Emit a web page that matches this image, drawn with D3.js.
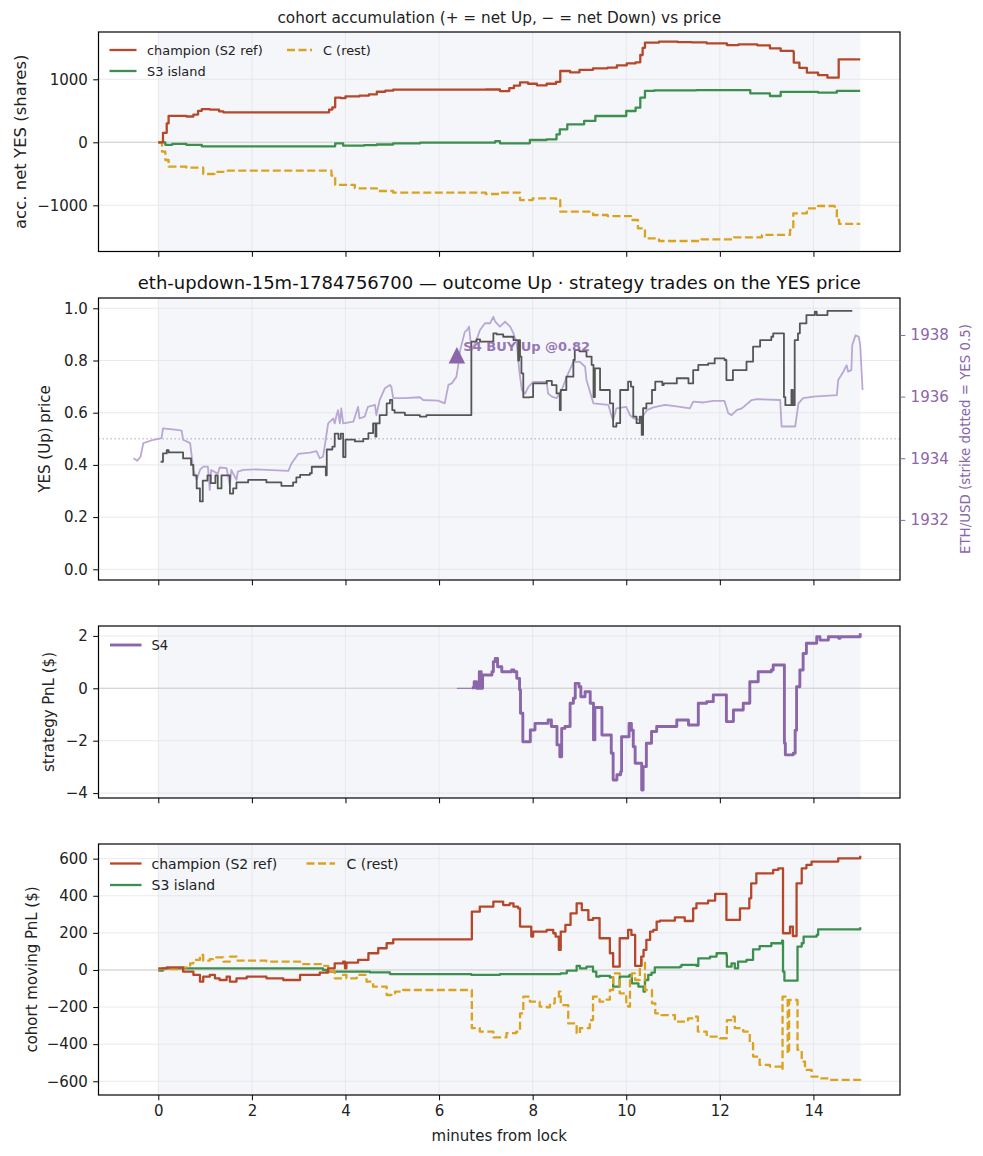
<!DOCTYPE html>
<html><head><meta charset="utf-8">
<script src="https://cdn.jsdelivr.net/npm/d3@7/dist/d3.min.js"></script>
<style>body{margin:0;background:#fff}svg{display:block}text{font-family:"DejaVu Sans",sans-serif}</style>
</head><body><svg id="c" width="983" height="1156"></svg>
<script>
// ---------------- DATA (t = minutes from lock) ----------------
const xTicks = [0,2,4,6,8,10,12,14];
const accTicks = [-1000,0,1000];
const yesTicks = [0,0.2,0.4,0.6,0.8,1.0];
const ethTicks = [1932,1934,1936,1938];
const s4Ticks = [-4,-2,0,2];
const pnlTicks = [-600,-400,-200,0,200,400,600];
const strike = 1934.63;
const tradeT = 6.38, tradeP = 0.82;

const accChampion = [[0,0],[0.1,150],[0.18,300],[0.22,420],[0.6,410],[0.75,440],[0.85,500],[0.93,528],[1.1,520],[1.3,490],[1.39,476],[3.6,476],[3.65,520],[3.72,556],[3.78,708],[3.9,700],[4.0,730],[4.3,740],[4.5,760],[4.67,803],[4.85,820],[5.02,835],[7.0,838],[7.3,814],[7.5,860],[7.6,900],[7.73,952],[7.9,930],[8.09,905],[8.3,930],[8.5,960],[8.59,1132],[8.8,1110],[9.0,1150],[9.29,1175],[9.6,1185],[9.8,1220],[10.01,1252],[10.2,1270],[10.3,1386],[10.35,1500],[10.4,1581],[10.7,1597],[11.1,1590],[11.4,1585],[11.72,1570],[12.15,1544],[12.4,1556],[12.8,1540],[13.07,1492],[13.3,1450],[13.57,1434],[13.58,1264],[13.7,1180],[13.86,1105],[14.1,1068],[14.3,1026],[14.54,1317],[15.0,1317]];
const accS3 = [[0,0],[0.15,-40],[0.3,-25],[0.6,-40],[0.93,-63],[3.6,-63],[3.78,-16],[3.95,-53],[4.4,-45],[4.67,-35],[5.02,-16],[5.6,-5],[7.2,20],[7.3,-16],[7.94,37],[8.3,48],[8.51,127],[8.58,206],[8.74,286],[9.1,339],[9.34,418],[9.8,418],[10.0,497],[10.2,550],[10.3,709],[10.4,815],[10.6,825],[11.5,830],[12.65,778],[13.07,735],[13.3,800],[14.1,788],[14.5,815],[15.0,815]];
const accC = [[0,0],[0.08,-149],[0.15,-281],[0.22,-387],[0.6,-402],[0.96,-503],[1.2,-470],[1.39,-450],[3.6,-450],[3.7,-530],[3.78,-677],[4.2,-730],[4.67,-773],[5.02,-799],[6.5,-799],[7.0,-820],[7.3,-799],[7.73,-916],[8.0,-890],[8.5,-916],[8.59,-1101],[9.0,-1101],[9.29,-1154],[9.6,-1170],[10.1,-1233],[10.25,-1366],[10.4,-1524],[10.7,-1566],[11.6,-1540],[12.3,-1508],[12.9,-1470],[13.5,-1391],[13.57,-1127],[13.86,-1048],[14.1,-1011],[14.45,-1022],[14.5,-1233],[14.55,-1296],[15.0,-1296]];

const yesPrice = [[0.05,0.412],[0.1,0.444],[0.18,0.457],[0.22,0.448],[0.5,0.448],[0.53,0.425],[0.7,0.40],[0.75,0.36],[0.82,0.31],[0.89,0.26],[0.95,0.34],[1.05,0.36],[1.12,0.33],[1.22,0.36],[1.27,0.31],[1.35,0.36],[1.48,0.36],[1.53,0.29],[1.6,0.31],[1.67,0.333],[1.92,0.343],[2.31,0.333],[2.63,0.32],[2.88,0.333],[2.95,0.352],[3.03,0.362],[3.24,0.368],[3.28,0.393],[3.55,0.393],[3.58,0.36],[3.6,0.459],[3.72,0.47],[3.77,0.52],[3.85,0.50],[3.9,0.52],[3.95,0.43],[4.0,0.497],[4.2,0.49],[4.38,0.50],[4.49,0.522],[4.59,0.559],[4.64,0.508],[4.66,0.559],[4.73,0.591],[4.88,0.636],[4.95,0.649],[5.0,0.61],[5.05,0.60],[5.27,0.591],[5.59,0.585],[5.73,0.591],[6.69,0.872],[6.8,0.881],[6.875,0.872],[7.16,0.904],[7.23,0.90],[7.37,0.891],[7.59,0.878],[7.69,0.80],[7.71,0.878],[7.73,0.815],[7.76,0.751],[7.8,0.659],[7.94,0.66],[8.01,0.712],[8.3,0.722],[8.41,0.706],[8.51,0.674],[8.58,0.61],[8.6,0.687],[8.72,0.738],[8.87,0.802],[8.9,0.84],[9.0,0.835],[9.15,0.815],[9.26,0.783],[9.3,0.66],[9.33,0.77],[9.44,0.687],[9.62,0.687],[9.65,0.636],[9.72,0.547],[9.79,0.56],[9.87,0.687],[10.04,0.719],[10.1,0.70],[10.15,0.585],[10.22,0.56],[10.29,0.585],[10.33,0.515],[10.36,0.617],[10.43,0.636],[10.55,0.687],[10.62,0.719],[10.77,0.706],[10.8,0.712],[11.08,0.732],[11.33,0.712],[11.43,0.763],[11.54,0.783],[11.75,0.789],[11.89,0.808],[12.1,0.802],[12.14,0.725],[12.28,0.763],[12.57,0.796],[12.71,0.853],[12.86,0.878],[13.1,0.891],[13.14,0.904],[13.37,0.66],[13.4,0.629],[13.53,0.687],[13.56,0.629],[13.6,0.878],[13.67,0.904],[13.71,0.942],[13.85,0.974],[14.03,0.987],[14.07,0.974],[14.3,0.99],[14.83,0.99]];

const ethUsd = [[-0.53,1934.0],[-0.45,1933.92],[-0.38,1934.05],[-0.32,1934.49],[-0.1,1934.6],[0.07,1934.65],[0.1,1934.97],[0.4,1934.92],[0.5,1934.9],[0.53,1934.6],[0.68,1934.49],[0.75,1933.62],[0.82,1933.3],[0.89,1933.62],[0.96,1933.73],[1.06,1933.73],[1.1,1932.97],[1.13,1933.62],[1.27,1933.5],[1.31,1933.7],[1.46,1933.68],[1.53,1933.1],[1.56,1933.62],[1.67,1933.3],[1.7,1933.57],[1.82,1933.62],[2.1,1933.64],[2.31,1933.62],[2.78,1933.59],[2.85,1933.84],[2.99,1934.14],[3.24,1934.18],[3.38,1934.23],[3.45,1934.0],[3.52,1934.05],[3.56,1934.43],[3.63,1935.13],[3.74,1935.29],[3.77,1935.13],[3.81,1935.4],[3.84,1935.56],[3.88,1935.13],[3.91,1935.62],[3.95,1935.13],[4.17,1935.19],[4.27,1935.67],[4.3,1935.29],[4.41,1935.35],[4.48,1935.67],[4.63,1935.73],[4.66,1935.4],[4.73,1935.89],[4.84,1936.27],[4.95,1936.38],[4.98,1936.32],[5.02,1935.95],[5.27,1935.95],[5.59,1935.98],[5.66,1935.89],[5.98,1935.87],[6.12,1935.78],[6.2,1936.38],[6.27,1936.43],[6.37,1936.64],[6.41,1937.02],[6.45,1937.5],[6.55,1938.1],[6.6,1938.16],[6.64,1938.27],[6.67,1937.84],[6.7,1937.51],[6.8,1937.84],[6.875,1938.16],[6.98,1938.38],[7.09,1938.38],[7.16,1938.59],[7.2,1938.43],[7.3,1938.27],[7.41,1938.43],[7.52,1938.27],[7.59,1938.05],[7.66,1937.73],[7.72,1936.76],[7.77,1936.21],[7.84,1936.1],[7.91,1936.32],[8.01,1936.48],[8.3,1936.48],[8.33,1936.1],[8.41,1936.0],[8.51,1935.95],[8.62,1936.21],[8.73,1936.65],[8.87,1937.13],[9.01,1937.13],[9.12,1936.97],[9.15,1936.54],[9.3,1935.78],[9.62,1935.73],[9.69,1935.35],[9.72,1935.24],[9.79,1935.62],[10.0,1935.67],[10.08,1935.4],[10.15,1935.3],[10.29,1935.24],[10.37,1935.40],[10.44,1935.56],[10.58,1935.65],[10.83,1935.73],[11.15,1935.67],[11.36,1935.62],[11.43,1935.84],[11.65,1935.81],[11.86,1935.86],[12.1,1935.86],[12.18,1935.46],[12.25,1935.40],[12.36,1935.56],[12.47,1935.62],[12.68,1935.89],[12.79,1935.92],[13.29,1935.89],[13.32,1935.03],[13.61,1935.03],[13.68,1935.78],[13.78,1935.95],[14.0,1936.0],[14.5,1936.05],[14.53,1936.54],[14.64,1936.81],[14.71,1937.02],[14.74,1936.81],[14.81,1936.86],[14.83,1937.67],[14.9,1937.99],[14.97,1937.94],[15.0,1937.67],[15.05,1936.21]];

const s4Flat = [[6.38,0],[6.7,0]];
const s4Pnl = [[6.7,0.02],[6.75,0.25],[6.8,0.0],[6.86,0.63],[6.9,0.0],[6.93,0.51],[7.13,0.63],[7.16,1.02],[7.2,1.14],[7.25,0.82],[7.34,0.63],[7.55,0.7],[7.6,0.63],[7.66,0.38],[7.72,-0.06],[7.74,-0.95],[7.79,-2.04],[7.91,-2.04],[7.95,-1.59],[8.05,-1.34],[8.33,-1.21],[8.4,-1.46],[8.48,-1.46],[8.52,-2.16],[8.58,-2.61],[8.62,-1.53],[8.69,-1.46],[8.8,-0.57],[8.87,-0.38],[8.91,0.19],[8.99,0.06],[9.03,-0.32],[9.12,-0.13],[9.23,-0.57],[9.3,-1.97],[9.33,-0.73],[9.44,-0.73],[9.48,-1.78],[9.65,-1.78],[9.68,-2.48],[9.72,-3.5],[9.8,-3.3],[9.88,-3.18],[9.9,-1.85],[10.04,-1.85],[10.06,-1.34],[10.11,-1.6],[10.15,-2.23],[10.19,-2.86],[10.26,-2.86],[10.33,-3.88],[10.36,-2.99],[10.43,-2.1],[10.54,-1.65],[10.65,-1.46],[11.04,-1.46],[11.08,-1.21],[11.29,-1.21],[11.33,-1.40],[11.47,-1.40],[11.54,-0.57],[11.72,-0.51],[11.86,-0.25],[12.07,-0.25],[12.14,-1.27],[12.25,-1.27],[12.29,-0.83],[12.5,-0.57],[12.64,0.25],[12.82,0.63],[13.1,0.7],[13.14,0.89],[13.36,0.89],[13.38,-2.1],[13.4,-2.54],[13.57,-2.48],[13.61,-1.6],[13.64,0.06],[13.71,0.7],[13.78,1.33],[13.85,1.72],[14.07,1.97],[14.14,1.84],[14.25,1.84],[14.32,1.97],[14.54,1.91],[14.57,1.97],[14.97,1.97],[15.0,2.1]];

const pnlChampion = [[0,9],[0.18,14],[0.53,-9],[0.75,-27],[0.89,-63],[0.96,-36],[1.1,-27],[1.21,-45],[1.31,-54],[1.46,-36],[1.53,-63],[1.67,-45],[1.89,-36],[2.31,-45],[2.67,-54],[3.03,-27],[3.45,-14],[3.63,9],[3.77,36],[3.95,45],[3.99,9],[4.02,40],[4.27,54],[4.49,90],[4.7,117],[4.88,144],[5.02,165],[6.7,314],[6.87,341],[7.16,368],[7.37,350],[7.51,359],[7.59,341],[7.69,332],[7.73,234],[7.97,180],[8.01,207],[8.3,216],[8.44,198],[8.49,180],[8.56,108],[8.6,207],[8.7,243],[8.81,305],[8.94,359],[9.05,323],[9.19,270],[9.29,279],[9.43,171],[9.65,90],[9.72,18],[9.86,171],[10.04,216],[10.11,189],[10.19,22],[10.32,72],[10.37,108],[10.43,162],[10.51,207],[10.58,216],[10.65,261],[10.72,266],[11.04,284],[11.25,264],[11.43,332],[11.5,359],[11.75,374],[11.9,410],[12.14,270],[12.43,332],[12.63,386],[12.67,467],[12.78,521],[13.14,539],[13.25,548],[13.35,198],[13.5,234],[13.56,183],[13.64,467],[13.75,548],[13.85,566],[13.96,584],[14.53,602],[15.0,615]];
const pnlS3 = [[0,-4],[0.1,9],[3.1,9],[3.52,0],[3.6,-9],[4.52,-13],[4.95,-22],[6.69,-27],[7.3,-22],[8.55,-22],[8.6,-18],[8.73,-4],[8.94,22],[9.01,9],[9.15,18],[9.29,-9],[9.36,-36],[9.43,-32],[9.65,-40],[9.72,-90],[9.86,-36],[10.07,-27],[10.12,-72],[10.26,-90],[10.37,-117],[10.4,-54],[10.47,-27],[10.54,-14],[10.61,14],[11.15,18],[11.18,27],[11.5,22],[11.54,63],[11.79,72],[11.93,90],[12.14,81],[12.15,18],[12.25,36],[12.32,9],[12.39,45],[12.57,54],[12.71,111],[12.85,129],[13.1,144],[13.33,158],[13.35,-9],[13.38,-58],[13.64,-58],[13.66,126],[13.75,144],[13.79,180],[14.07,189],[14.1,219],[15.0,230]];
const pnlC = [[0,4],[0.53,14],[0.68,36],[0.75,54],[0.89,81],[0.96,50],[1.1,58],[1.24,68],[1.39,45],[1.53,72],[1.67,50],[2.31,45],[3.03,32],[3.52,22],[3.63,-9],[3.77,-45],[3.95,-27],[4.02,-45],[4.24,-27],[4.45,-63],[4.59,-90],[4.88,-135],[4.98,-126],[5.06,-117],[5.23,-108],[6.7,-314],[6.87,-332],[7.16,-363],[7.44,-341],[7.65,-332],[7.73,-234],[7.8,-144],[7.94,-171],[8.15,-198],[8.3,-201],[8.37,-180],[8.47,-153],[8.56,-117],[8.6,-189],[8.76,-288],[8.94,-341],[9.01,-314],[9.22,-270],[9.29,-144],[9.43,-171],[9.58,-160],[9.65,-108],[9.72,-18],[9.86,-126],[10.0,-180],[10.04,-198],[10.08,-36],[10.12,-18],[10.19,-54],[10.29,18],[10.33,54],[10.4,-108],[10.55,-180],[10.62,-234],[10.75,-243],[11.04,-279],[11.32,-261],[11.46,-252],[11.53,-332],[11.72,-359],[12.0,-368],[12.15,-270],[12.29,-252],[12.32,-314],[12.5,-332],[12.64,-395],[12.71,-467],[12.85,-512],[13.07,-521],[13.32,-539],[13.34,-144],[13.41,-144],[13.45,-449],[13.48,-162],[13.64,-162],[13.66,-431],[13.75,-494],[13.82,-539],[13.96,-575],[14.14,-584],[14.35,-593],[15.0,-597]];

// ---------------- STYLE / LAYOUT ----------------
const C_CH = "#b5482a", C_S3 = "#3d8f4f", C_C = "#dba21e", C_S4 = "#8b66aa", C_YES = "#555555", C_ETH = "#b9a8d4";
const F = '"DejaVu Sans", sans-serif';
const L = 98.5, R = 900;
const LW = 2.3, DASH = "8,3.5";
const svg = d3.select("#c");
const x = d3.scaleLinear().domain([-1.278, 15.85]).range([L, R]);
const TL = 5.3, TP = 5.3;

function panel(top, bottom, ydom, ticks, fmt, showX, ylabel, ylx, ylfs) {
  const y = d3.scaleLinear().domain(ydom).range([bottom, top]);
  const g = svg.append("g");
  const id = "clip" + Math.round(top);
  svg.append("clipPath").attr("id", id).append("rect").attr("x", L).attr("y", top).attr("width", R - L).attr("height", bottom - top);
  const inner = g.append("g").attr("clip-path", `url(#${id})`);
  inner.append("rect").attr("x", x(0)).attr("y", top).attr("width", x(15) - x(0)).attr("height", bottom - top).attr("fill", "#f4f6fa");
  inner.selectAll(".vg").data(xTicks).join("line").attr("x1", d => x(d)).attr("x2", d => x(d)).attr("y1", top).attr("y2", bottom).attr("stroke", "#e3e5ea").attr("stroke-width", 0.8);
  inner.selectAll(".hg").data(ticks).join("line").attr("x1", L).attr("x2", R).attr("y1", d => y(d)).attr("y2", d => y(d)).attr("stroke", "#e3e5ea").attr("stroke-width", 0.8);
  const ax = d3.axisBottom(x).tickValues(xTicks).tickSize(TL).tickPadding(TP).tickFormat(showX ? d3.format("d") : () => "");
  const ga = g.append("g").attr("transform", `translate(0,${bottom})`).call(ax);
  const ay = d3.axisLeft(y).tickValues(ticks).tickSize(TL).tickPadding(TP).tickFormat(fmt);
  const gy = g.append("g").attr("transform", `translate(${L},0)`).call(ay);
  [ga, gy].forEach(a => { a.select(".domain").remove(); a.selectAll("line").attr("stroke", "#000").attr("stroke-width", 1); a.selectAll("text").attr("font-family", F).attr("font-size", 15).attr("fill", "#222"); });
  g.append("text").attr("transform", `translate(${ylx},${(top + bottom) / 2}) rotate(-90)`).attr("text-anchor", "middle").attr("dy", "0.35em").attr("font-size", ylfs || 15).attr("fill", "#222").text(ylabel);
  return {y, g, inner, top, bottom};
}
function frame(p) {
  p.g.append("rect").attr("x", L).attr("y", p.top).attr("width", R - L).attr("height", p.bottom - p.top).attr("fill", "none").attr("stroke", "#000").attr("stroke-width", 1.2);
}
function zero(p) {
  p.inner.append("line").attr("x1", L).attr("x2", R).attr("y1", p.y(0)).attr("y2", p.y(0)).attr("stroke", "#cfcfcf").attr("stroke-width", 1.1);
}
function path(p, data, yS, color, w, opts = {}) {
  const ln = d3.line().x(d => x(d[0])).y(d => yS(d[1])).curve(opts.linear ? d3.curveLinear : d3.curveStepAfter);
  const el = p.inner.append("path").datum(data).attr("d", ln).attr("fill", "none").attr("stroke", color).attr("stroke-width", w).attr("stroke-linejoin", "round");
  if (opts.dash) el.attr("stroke-dasharray", opts.dash);
  if (opts.opacity) el.attr("stroke-opacity", opts.opacity);
  return el;
}
function legend(items, y0, rowH, cols, fs) {
  items.forEach(it => {
    const c = cols[it.col];
    const yy = y0 + it.row * rowH;
    const l = svg.append("line").attr("x1", c.x1).attr("x2", c.x2).attr("y1", yy).attr("y2", yy).attr("stroke", it.color).attr("stroke-width", it.w);
    if (it.dash) l.attr("stroke-dasharray", it.dash);
    svg.append("text").attr("x", c.tx).attr("y", yy).attr("dy", "0.36em").attr("font-size", fs).attr("fill", "#222").text(it.label);
  });
}

// ---------- Panel 1 ----------
const p1 = panel(32, 251.5, [-1733, 1751], accTicks, d3.format("d"), false, "acc. net YES (shares)", 20, 16.5);
zero(p1);
path(p1, accS3, p1.y, C_S3, LW);
path(p1, accC, p1.y, C_C, LW, {dash: DASH});
path(p1, accChampion, p1.y, C_CH, LW);
frame(p1);
svg.append("text").attr("x", (L + R) / 2).attr("y", 22.5).attr("text-anchor", "middle").attr("font-size", 15.3).attr("fill", "#222").text("cohort accumulation (+ = net Up, \u2212 = net Down) vs price");
legend([
  {label: "champion (S2 ref)", color: C_CH, w: LW, row: 0, col: 0},
  {label: "S3 island", color: C_S3, w: LW, row: 1, col: 0},
  {label: "C (rest)", color: C_C, w: LW, row: 0, col: 1, dash: DASH}
], 50, 21, [{x1: 109.5, x2: 136.5, tx: 147}, {x1: 287, x2: 312, tx: 323}], 12.9);

// ---------- Panel 2 ----------
const p2 = panel(298, 580, [-0.041, 1.0395], yesTicks, d3.format(".1f"), false, "YES (Up) price", 45);
const yE = d3.scaleLinear().domain([1930.05, 1939.2]).range([580, 298]);
p2.inner.append("line").attr("x1", L).attr("x2", R).attr("y1", yE(strike)).attr("y2", yE(strike)).attr("stroke", "#a393bd").attr("stroke-width", 1).attr("stroke-dasharray", "1.5,2.5").attr("stroke-opacity", 0.85);
path(p2, ethUsd, yE, C_ETH, 1.8, {linear: true});
path(p2, yesPrice, p2.y, C_YES, 1.8);
const mx = x(tradeT), my = p2.y(tradeP), ms = 8.3;
p2.g.append("path").attr("d", `M${mx},${my - ms}L${mx + ms},${my + ms}L${mx - ms},${my + ms}Z`).attr("fill", C_S4);
p2.g.append("text").attr("x", mx + 6.5).attr("y", my - 4).attr("font-size", 13).attr("font-weight", "bold").attr("fill", C_S4).attr("fill-opacity", 0.9).text("S4 BUY Up @0.82");
const ayR = d3.axisRight(yE).tickValues(ethTicks).tickSize(TL).tickPadding(TP).tickFormat(d3.format("d"));
const gR = svg.append("g").attr("transform", `translate(${R},0)`).call(ayR);
gR.select(".domain").remove();
gR.selectAll("line").attr("stroke", C_S4);
gR.selectAll("text").attr("font-family", F).attr("font-size", 15).attr("fill", C_S4);
svg.append("text").attr("transform", `translate(965,${(298 + 580) / 2}) rotate(-90)`).attr("text-anchor", "middle").attr("dy", "0.35em").attr("font-size", 13.4).attr("fill", C_S4).text("ETH/USD (strike dotted = YES 0.5)");
frame(p2);
svg.append("text").attr("x", (L + R) / 2).attr("y", 289).attr("text-anchor", "middle").attr("font-size", 18).attr("fill", "#111").text("eth-updown-15m-1784756700 \u2014 outcome Up \u00b7 strategy trades on the YES price");

// ---------- Panel 3 ----------
const p3 = panel(626, 798, [-4.187, 2.378], s4Ticks, d3.format("d"), false, "strategy PnL ($)", 49);
zero(p3);
path(p3, s4Flat, p3.y, C_S4, 1);
path(p3, s4Pnl, p3.y, C_S4, 2.9);
frame(p3);
legend([{label: "S4", color: C_S4, w: 2.9, row: 0, col: 0}], 645, 20, [{x1: 110, x2: 141.5, tx: 151.5}], 13.2);

// ---------- Panel 4 ----------
const p4 = panel(844, 1095, [-674, 679], pnlTicks, d3.format("d"), true, "cohort moving PnL ($)", 32);
zero(p4);
path(p4, pnlS3, p4.y, C_S3, LW);
path(p4, pnlC, p4.y, C_C, LW, {dash: DASH});
path(p4, pnlChampion, p4.y, C_CH, LW);
frame(p4);
legend([
  {label: "champion (S2 ref)", color: C_CH, w: LW, row: 0, col: 0},
  {label: "S3 island", color: C_S3, w: LW, row: 1, col: 0},
  {label: "C (rest)", color: C_C, w: LW, row: 0, col: 1, dash: DASH}
], 863.5, 21.5, [{x1: 110, x2: 141.5, tx: 151.5}, {x1: 306.5, x2: 335, tx: 346.5}], 14);
svg.append("text").attr("x", (L + R) / 2).attr("y", 1141).attr("text-anchor", "middle").attr("font-size", 15).attr("fill", "#222").text("minutes from lock");
</script></body></html>
